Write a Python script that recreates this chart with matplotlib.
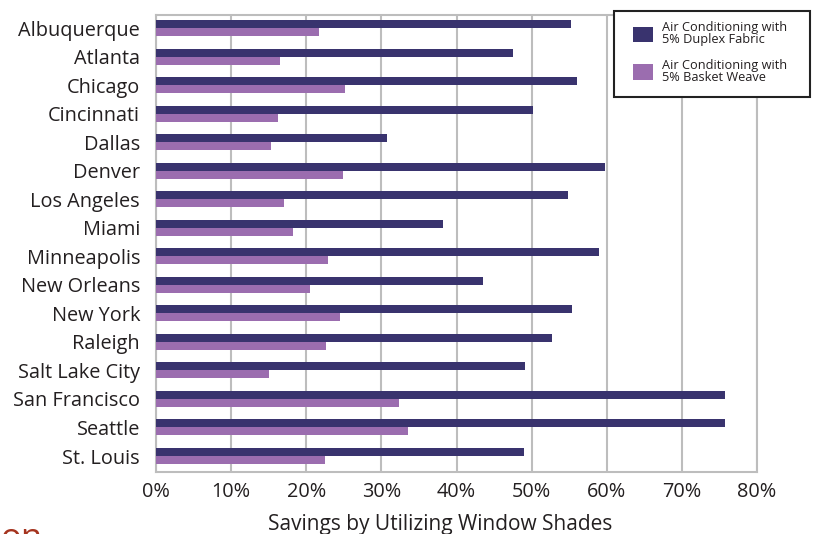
import matplotlib
matplotlib.use("Agg")
import matplotlib.pyplot as plt
import numpy as np
from matplotlib.patches import Patch, Rectangle

cities = ["Albuquerque", "Atlanta", "Chicago", "Cincinnati", "Dallas", "Denver",
          "Los Angeles", "Miami", "Minneapolis", "New Orleans", "New York",
          "Raleigh", "Salt Lake City", "San Francisco", "Seattle", "St. Louis"]
duplex = [55.3, 47.5, 56.0, 50.2, 30.8, 59.8, 54.8, 38.2, 59.0, 43.5, 55.4,
          52.7, 49.1, 75.8, 75.8, 49.0]
basket = [21.7, 16.5, 25.2, 16.3, 15.3, 24.9, 17.1, 18.3, 22.9, 20.5, 24.5,
          22.6, 15.0, 32.3, 33.5, 22.5]
xticks = [0, 10, 20, 30, 40, 50, 60, 70, 80]
xtick_labels = ["0%", "10%", "20%", "30%", "40%", "50%", "60%", "70%", "80%"]
series_names = ["Air Conditioning with\n5% Duplex Fabric",
                "Air Conditioning with\n5% Basket Weave"]

dark = "#39336e"
light = "#9b6daf"
grid = "#bdbdbd"
txt = "#231f20"
font = "Open Sans"

fig = plt.figure(figsize=(8.13, 5.34), dpi=100)
ax = fig.add_axes([156/813, 62/534, (757-156)/813, (472-15)/534])

y = np.arange(len(cities))
h = 0.28
ax.barh(y - h/2, duplex, height=h, color=dark, zorder=3)
ax.barh(y + h/2, basket, height=h, color=light, zorder=3)

ax.set_xlim(0, 80)
ax.set_ylim(len(cities) - 1 + 0.56, -0.456)
ax.set_xticks(xticks)
ax.set_xticklabels(xtick_labels, fontsize=14.3, family=font, color=txt)
ax.set_yticks(y)
ax.set_yticklabels(cities, fontsize=14.3, family=font, color=txt)
ax.tick_params(axis="both", length=0)
ax.tick_params(axis="y", pad=11.5)
ax.tick_params(axis="x", pad=7.5)
ax.xaxis.grid(True, color=grid, lw=1.5, zorder=0)
for s in ax.spines.values():
    s.set_color(grid)
    s.set_linewidth(1.5)
ax.set_xlabel("Savings by Utilizing Window Shades", fontsize=15, family=font,
              color=txt, labelpad=8, x=(440.5 - 156) / 601)

# legend frame
frame = Rectangle((614/813, 1 - 97/534), (810-614)/813, (97-11)/534,
                  transform=fig.transFigure, facecolor="white",
                  edgecolor="#222222", lw=1.5, zorder=5)
fig.patches.append(frame)

handles = [Patch(facecolor=dark), Patch(facecolor=light)]
leg = fig.legend(handles, series_names, loc="upper left",
                 bbox_to_anchor=(633/813, 1 - 21/534),
                 prop={"family": font, "size": 9.2}, frameon=False,
                 handlelength=1.55, handleheight=1.5,
                 borderpad=0, labelspacing=0.95, handletextpad=0.7,
                 borderaxespad=0)
leg.set_zorder(6)
for t in leg.get_texts():
    t.set_linespacing(0.95)
    t.set_color(txt)

fig.text(0.0, -14/534, "on", fontsize=25, family=font, color="#a5341f",
         ha="left", va="baseline")

fig.savefig("out.png", dpi=100)
